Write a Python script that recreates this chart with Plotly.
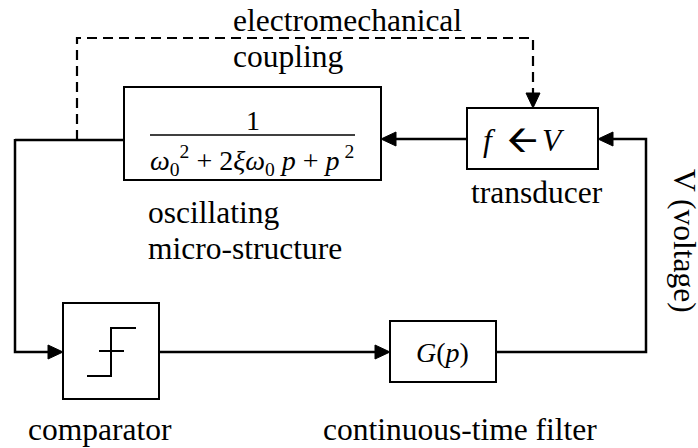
import plotly.graph_objects as go

# ---- diagram content (text) ----
block_labels = ["oscillating", "micro-structure", "transducer", "comparator", "continuous-time filter"]
coupling_label = ["electromechanical", "coupling"]
signal_label = "V (voltage)"
tf_numerator = "1"
tf_denominator = "<i>ω</i><sub>0</sub><sup>2</sup> + 2<i>ξω</i><sub>0</sub> <i>p</i> + <i>p</i><sup> 2</sup>"
filter_text = "<i>G</i>(<i>p</i>)"
transducer_parts = ["<i>f</i>", "🡨", "<i>V</i>"]

# ---- geometry (pixel space) ----
W, H = 698, 448
FONT = "Liberation Serif"
boxes = {
    "osc": (124, 87, 381, 180),
    "trans": (467, 108, 598, 169),
    "comp": (63, 303, 159, 399),
    "filt": (390, 321, 496, 382),
}

fig = go.Figure()
shapes = []
annotations = []

def line(pts, width=2.5, dash=None):
    path = "M " + " L ".join(f"{x},{y}" for x, y in pts)
    shapes.append(dict(type="path", path=path, line=dict(color="black", width=width, dash=dash),
                       xref="x", yref="y", layer="above"))

def head(tip, direction, L=15, hw=7):
    x, y = tip
    if direction == "right":
        p = [(x, y), (x - L, y - hw), (x - L, y + hw)]
    elif direction == "left":
        p = [(x, y), (x + L, y - hw), (x + L, y + hw)]
    else:  # down
        p = [(x, y), (x - hw, y - L), (x + hw, y - L)]
    path = "M " + " L ".join(f"{a},{b}" for a, b in p) + " Z"
    shapes.append(dict(type="path", path=path, fillcolor="black", line=dict(color="black", width=1),
                       xref="x", yref="y", layer="above"))

for (x0, y0, x1, y1) in boxes.values():
    shapes.append(dict(type="rect", x0=x0, y0=y0, x1=x1, y1=y1, line=dict(color="black", width=2),
                       fillcolor="rgba(0,0,0,0)", xref="x", yref="y"))

# wires
line([(15, 140), (124, 140)])
line([(15, 139), (15, 352), (50, 352)])
head((63, 352), "right")
line([(467, 139), (394, 139)])
head((381, 139), "left")
line([(77, 140), (77, 38), (533, 38), (533, 95)], width=2.2, dash="10px,6px")
head((533, 108), "down")
line([(159, 352), (377, 352)])
head((390, 352), "right")
line([(496, 352), (646, 352), (646, 139), (611, 139)])
head((598, 139), "left")

# comparator step symbol
line([(87, 376), (111, 376), (111, 328), (136, 328)], width=2)
line([(99, 351), (124, 351)], width=2)

# fraction bar
line([(150, 135), (355, 135)], width=1.5)

def text(x, y, s, size=31.5, xanchor="center", angle=0):
    annotations.append(dict(x=x, y=y, xref="x", yref="y", text=s, showarrow=False,
                            xanchor=xanchor, yanchor="middle", textangle=angle,
                            font=dict(family=FONT, size=size, color="black")))

text(231, 20, coupling_label[0], xanchor="left")
text(231, 56, coupling_label[1], xanchor="left")
text(146, 212, block_labels[0], xanchor="left")
text(146, 248, block_labels[1], xanchor="left")
text(537, 192, block_labels[2])
text(26, 429, block_labels[3], xanchor="left")
text(321, 429, block_labels[4], xanchor="left")
text(685, 241, signal_label, angle=90)
text(253, 120, tf_numerator, size=28)
text(252, 160, tf_denominator, size=28)
text(442, 352, filter_text, size=28)
text(489, 140, transducer_parts[0], size=31.5)
text(522, 139, transducer_parts[1], size=38)
text(553, 140, transducer_parts[2], size=31.5)

fig.update_layout(
    width=W, height=H, margin=dict(l=0, r=0, t=0, b=0),
    paper_bgcolor="white", plot_bgcolor="white",
    xaxis=dict(range=[0, W], visible=False, fixedrange=True),
    yaxis=dict(range=[H, 0], visible=False, fixedrange=True),
    shapes=shapes, annotations=annotations, showlegend=False,
)
fig.write_html("out.html", config={"displayModeBar": False, "staticPlot": True},
               post_script="document.body.style.margin='0';document.body.style.overflow='hidden';")
